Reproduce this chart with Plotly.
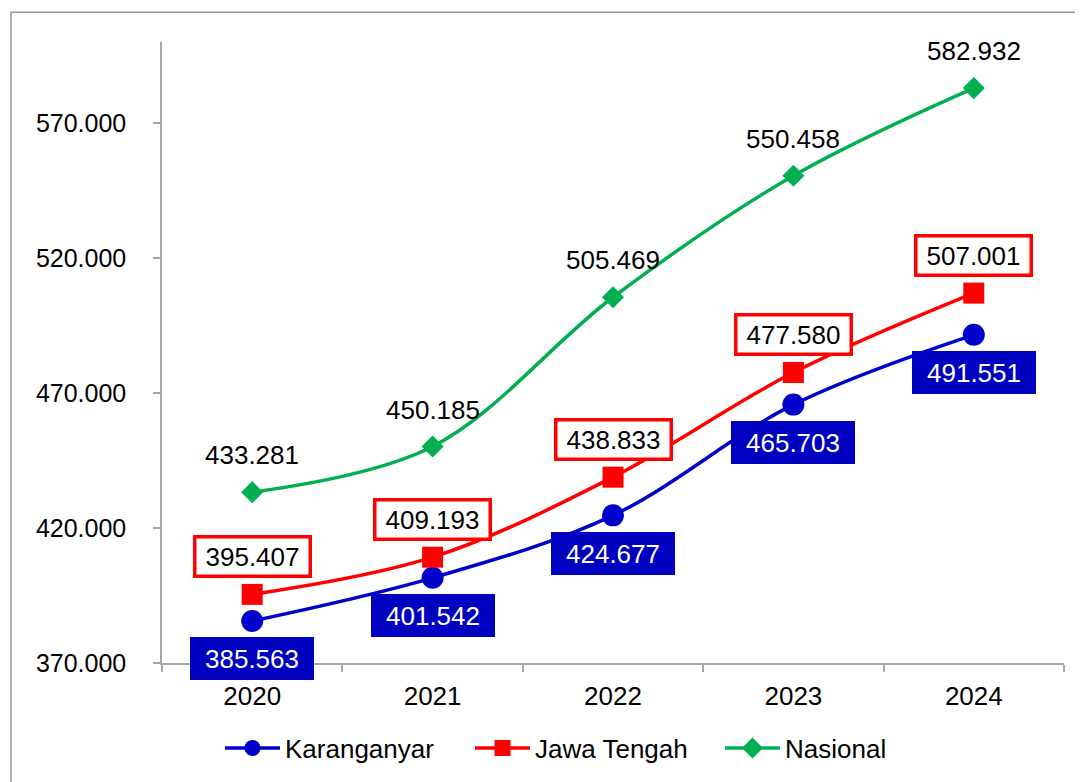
import plotly.graph_objects as go

years = ["2020", "2021", "2022", "2023", "2024"]
karanganyar = [385563, 401542, 424677, 465703, 491551]
jawa_tengah = [395407, 409193, 438833, 477580, 507001]
nasional = [433281, 450185, 505469, 550458, 582932]
y_ticks = [370000, 420000, 470000, 520000, 570000]

FONT = "Liberation Sans, Arial, sans-serif"
FS = 26
BLUE = "#0000CC"
RED = "#FF0000"
GREEN = "#00B050"
GRAY = "#A6A6A6"


def fmt(v):
    return f"{v:,}".replace(",", ".")


fig = go.Figure()
fig.add_trace(go.Scatter(x=years, y=karanganyar, name="Karanganyar", mode="lines+markers",
                         line=dict(color=BLUE, width=3.5, shape="spline"),
                         marker=dict(symbol="circle", size=22, color=BLUE)))
fig.add_trace(go.Scatter(x=years, y=jawa_tengah, name="Jawa Tengah", mode="lines+markers",
                         line=dict(color=RED, width=3.5, shape="spline"),
                         marker=dict(symbol="square", size=21, color=RED)))
fig.add_trace(go.Scatter(x=years, y=nasional, name="Nasional", mode="lines+markers",
                         line=dict(color=GREEN, width=3.5, shape="spline"),
                         marker=dict(symbol="diamond", size=17, color=GREEN)))

annotations = []
for i, v in enumerate(karanganyar):
    annotations.append(dict(x=i, y=v, xref="x", yref="y", text=fmt(v), showarrow=False,
                            yshift=-38, font=dict(family=FONT, size=FS, color="white"),
                            bgcolor="#0000C0", width=118, height=37, borderpad=3, borderwidth=0))
for i, v in enumerate(jawa_tengah):
    annotations.append(dict(x=i, y=v, xref="x", yref="y", text=fmt(v), showarrow=False,
                            yshift=38, font=dict(family=FONT, size=FS, color="black"),
                            bgcolor="white", bordercolor=RED, borderwidth=3.5,
                            width=110, height=34, borderpad=1))
for i, v in enumerate(nasional):
    annotations.append(dict(x=i, y=v, xref="x", yref="y", text=fmt(v), showarrow=False,
                            yshift=37, font=dict(family=FONT, size=FS, color="black")))

fig.update_layout(
    width=1083, height=782,
    margin=dict(l=154, r=27, t=34, b=127),
    paper_bgcolor="white", plot_bgcolor="white",
    separators=",.",
    font=dict(family=FONT, size=FS, color="black"),
    annotations=annotations,
    showlegend=True,
    legend=dict(orientation="h", x=0.0643, xanchor="left", y=-0.137, yanchor="middle",
                font=dict(family=FONT, size=FS, color="black"), itemwidth=55,
                entrywidth=180, bgcolor="rgba(0,0,0,0)"),
    shapes=[dict(type="rect", xref="paper", yref="paper", x0=-0.1674, x1=1.05, y0=-0.3, y1=1.048,
                 line=dict(color="#999999", width=1.5), fillcolor="rgba(0,0,0,0)", layer="below")],
)
fig.update_xaxes(type="category", range=[-0.5, 4.5], showgrid=False, showline=True,
                 linecolor=GRAY, linewidth=1.5, ticks="outside", tickson="boundaries",
                 ticklen=7, tickcolor=GRAY, tickwidth=1.5, zeroline=False,
                 ticklabelstandoff=9,
                 tickfont=dict(family=FONT, size=FS, color="black"))
fig.update_yaxes(range=[370000, 600000], tickvals=y_ticks, tickformat=",.0f",
                 showgrid=False, showline=True, linecolor=GRAY, linewidth=1.5,
                 ticks="outside", ticklen=7, tickcolor=GRAY, tickwidth=1.5, zeroline=False,
                 ticklabelstandoff=22,
                 tickfont=dict(family=FONT, size=25, color="black"))

fig.write_html("out.html")
